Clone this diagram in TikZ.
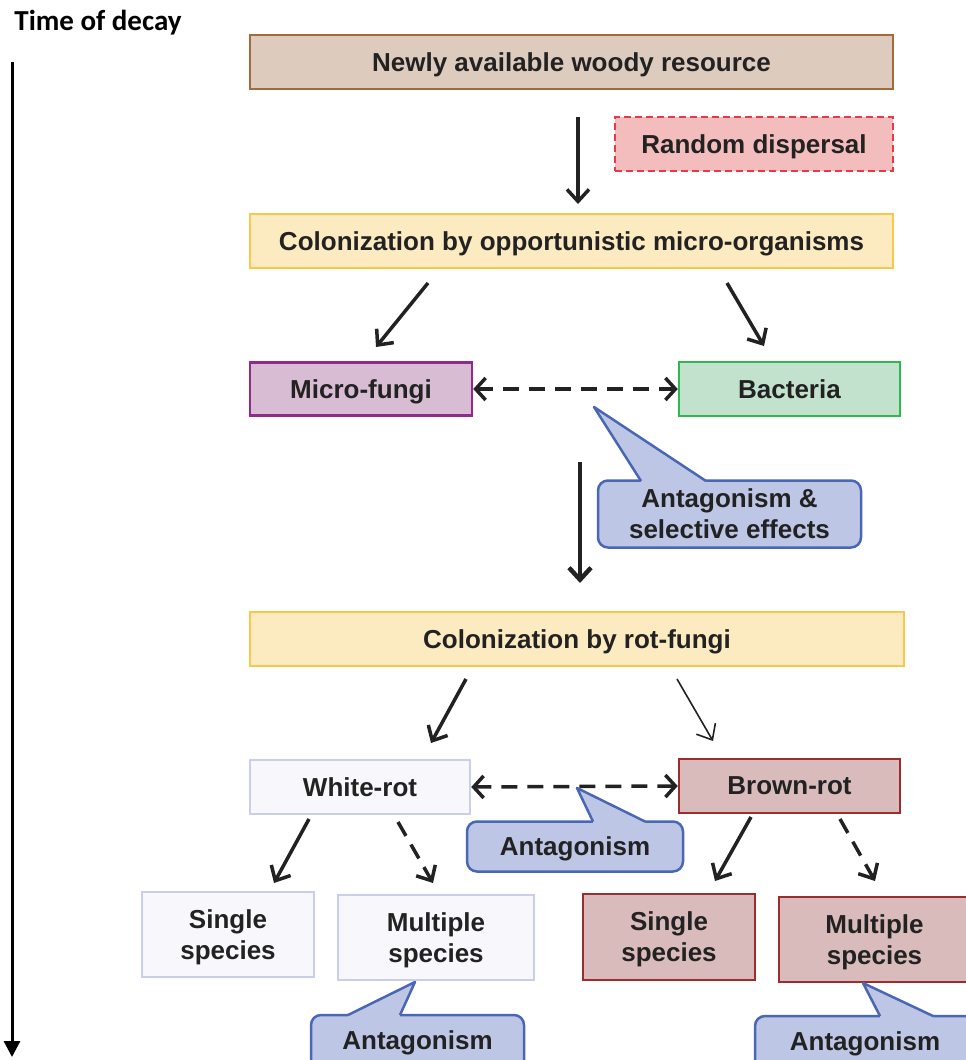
\documentclass[tikz,border=0pt]{standalone}
\usepackage{fontspec}
\setmainfont{Liberation Sans}
\newfontfamily\calfont{Carlito}
\usetikzlibrary{arrows.meta,calc}
\definecolor{txt}{HTML}{222222}
\definecolor{woodfill}{HTML}{DDCBBE}
\definecolor{woodline}{HTML}{A56A3C}
\definecolor{randfill}{HTML}{F4BDBD}
\definecolor{randline}{HTML}{E83A44}
\definecolor{yelfill}{HTML}{FCEAC0}
\definecolor{yelline}{HTML}{F7C94B}
\definecolor{mffill}{HTML}{D8BCD4}
\definecolor{mfline}{HTML}{8F2B8F}
\definecolor{bafill}{HTML}{C2E2CE}
\definecolor{baline}{HTML}{2EB84E}
\definecolor{calfill}{HTML}{BEC6E6}
\definecolor{calline}{HTML}{4A67B5}
\definecolor{wfill}{HTML}{F8F8FC}
\definecolor{wline}{HTML}{C9CEEC}
\definecolor{brfill}{HTML}{D9BBBB}
\definecolor{brline}{HTML}{9A2E2E}
\begin{document}
\begin{tikzpicture}[x=1pt,y=-1pt,
  box/.style={draw, line width=2.5pt, inner sep=0pt, text=txt, align=center, text depth=0pt,
    font=\fontsize{26}{31}\selectfont\bfseries},
  woodbox/.style={box, fill=woodfill, draw=woodline},
  randbox/.style={box, fill=randfill, draw=randline, line width=2pt, dash pattern=on 7pt off 4pt},
  yelbox/.style={box, fill=yelfill, draw=yelline},
  mfbox/.style={box, fill=mffill, draw=mfline},
  babox/.style={box, fill=bafill, draw=baline},
  wbox/.style={box, fill=wfill, draw=wline},
  brbox/.style={box, fill=brfill, draw=brline},
  calbox/.style={box, fill=calfill, draw=calline, rounded corners=10pt},
  calfillst/.style={fill=calfill},
  caledge/.style={draw=calline, line width=2.5pt, line join=round},
  arr/.style={line width=3.5pt, draw=txt, -{Straight Barb[length=12pt,width=22pt]}},
  thinarr/.style={line width=1.6pt, draw=txt, -{Straight Barb[length=13pt,width=22pt]}},
  darr/.style={line width=3.5pt, draw=txt, dash pattern=on 16pt off 10pt,
    {Straight Barb[length=10pt,width=22pt]}-{Straight Barb[length=10pt,width=22pt]}},
  dsarr/.style={line width=3.5pt, draw=txt, dash pattern=on 16pt off 10pt,
    -{Straight Barb[length=12pt,width=22pt]}},
  timearr/.style={line width=3pt, draw=black, -{Triangle[length=16pt,width=16pt]}}
]
\useasboundingbox (0,0) rectangle (966,1060);

% time axis
\node[font=\calfont\fontsize{29}{32}\selectfont\bfseries, text=black] (title) at (98,23) {Time of decay};
\coordinate (ts) at (12,62);
\coordinate (te) at (12,1057);
\draw[timearr] (ts) -- (te);

% boxes
\node[woodbox, minimum width=643pt, minimum height=54pt] (n1) at (571.5,62) {Newly available woody resource};
\node[randbox, minimum width=278pt, minimum height=54pt] (rd) at (754,144) {Random dispersal};
\node[yelbox, minimum width=643pt, minimum height=54pt] (n2) at (571.5,241) {Colonization by opportunistic micro-organisms};
\node[mfbox, minimum width=222pt, minimum height=53pt] (mf) at (361,389) {Micro-fungi};
\node[babox, minimum width=221pt, minimum height=54pt] (ba) at (789.5,389) {Bacteria};
\node[yelbox, minimum width=654pt, minimum height=54pt] (n3) at (577,639) {Colonization by rot-fungi};
\node[wbox, minimum width=220pt, minimum height=54pt] (wr) at (360,787) {White-rot};
\node[brbox, minimum width=221pt, minimum height=54pt] (br) at (789.5,786) {Brown-rot};
\node[wbox, minimum width=172pt, minimum height=85pt] (ws) at (228,934.5) {Single\\species};
\node[wbox, minimum width=196pt, minimum height=85pt] (wm) at (436,937.5) {Multiple\\species};
\node[brbox, minimum width=172pt, minimum height=86pt] (bs) at (669,937) {Single\\species};
\node[brbox, minimum width=191pt, minimum height=85pt] (bm) at (874.5,939.5) {Multiple\\species};

% callout 1
\node[calbox, minimum width=263pt, minimum height=67pt] (c1) at (729.5,514) {Antagonism \&\\selective effects};
\coordinate (c1t) at (594,407);
\coordinate (c1l) at (641,481);
\coordinate (c1r) at (706,481);
\fill[calfillst] (c1t) -- (c1l) -- ++(0,3.5) -- ($(c1r)+(0,3.5)$) -- (c1r) -- cycle;
\draw[caledge] (c1l) -- (c1t) -- (c1r);

% callout 2
\node[calbox, minimum width=216pt, minimum height=50pt] (c2) at (575,846.5) {Antagonism};
\coordinate (c2t) at (577,788);
\coordinate (c2l) at (593,821.5);
\coordinate (c2r) at (645,821.5);
\fill[calfillst] (c2t) -- (c2l) -- ++(0,3.5) -- ($(c2r)+(0,3.5)$) -- (c2r) -- cycle;
\draw[caledge] (c2l) -- (c2t) -- (c2r);

% callout 3
\node[calbox, minimum width=213pt, minimum height=60pt, text depth=10pt] (c3) at (417.5,1045) {Antagonism};
\coordinate (c3t) at (415,982);
\coordinate (c3l) at (348,1015);
\coordinate (c3r) at (400,1015);
\fill[calfillst] (c3t) -- (c3l) -- ++(0,3.5) -- ($(c3r)+(0,3.5)$) -- (c3r) -- cycle;
\draw[caledge] (c3l) -- (c3t) -- (c3r);

% callout 4
\node[calbox, minimum width=220pt, minimum height=60pt, text depth=10pt] (c4) at (865,1046) {Antagonism};
\coordinate (c4t) at (863,983);
\coordinate (c4l) at (880,1016);
\coordinate (c4r) at (933,1016);
\fill[calfillst] (c4t) -- (c4l) -- ++(0,3.5) -- ($(c4r)+(0,3.5)$) -- (c4r) -- cycle;
\draw[caledge] (c4l) -- (c4t) -- (c4r);

% arrows
\coordinate (a1s) at (578,117);  \coordinate (a1e) at (578,204);
\coordinate (a2s) at (428,283);  \coordinate (a2e) at (376,347);
\coordinate (a3s) at (727,283);  \coordinate (a3e) at (764,346);
\coordinate (a4s) at (580,462);  \coordinate (a4e) at (580,583);
\coordinate (a5s) at (466,679);  \coordinate (a5e) at (431,743);
\coordinate (a6s) at (677,679);  \coordinate (a6e) at (713,741);
\coordinate (a7s) at (309,819);  \coordinate (a7e) at (274,883);
\coordinate (a8s) at (398,822);  \coordinate (a8e) at (433,883);
\coordinate (a9s) at (751,817);  \coordinate (a9e) at (715,881);
\coordinate (a10s) at (840,819); \coordinate (a10e) at (875,881);

\draw[arr] (a1s) -- (a1e);
\draw[arr] (a2s) -- (a2e);
\draw[arr] (a3s) -- (a3e);
\draw[arr, line width=4.5pt] (a4s) -- (a4e);
\draw[arr] (a5s) -- (a5e);
\draw[thinarr] (a6s) -- (a6e);
\draw[arr] (a7s) -- (a7e);
\draw[dsarr] (a8s) -- (a8e);
\draw[arr] (a9s) -- (a9e);
\draw[dsarr] (a10s) -- (a10e);

\draw[darr] (mf.east) -- (ba.west);
\draw[darr] (wr.east) -- (br.west);
\end{tikzpicture}
\end{document}
